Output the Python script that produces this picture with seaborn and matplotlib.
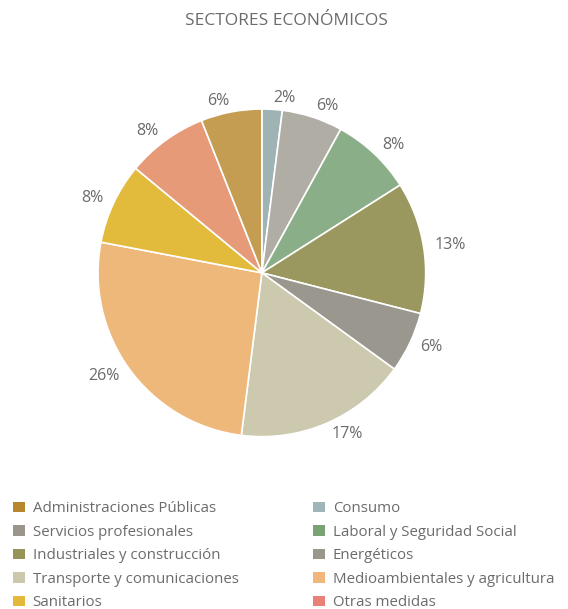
import matplotlib
matplotlib.use("Agg")
from matplotlib import pyplot as plt
from matplotlib.patches import Patch
import seaborn as sns

# data, in clockwise order starting at 12 o'clock
sectores = ["Consumo", "Servicios profesionales", "Laboral y Seguridad Social",
            "Industriales y construcción", "Energéticos", "Transporte y comunicaciones",
            "Medioambientales y agricultura", "Sanitarios", "Otras medidas",
            "Administraciones Públicas"]
porcentajes = [2, 6, 8, 13, 6, 17, 26, 8, 8, 6]
colores_pie = ["#9FB3B5", "#B0ADA5", "#8AAE88", "#9A985E", "#9A978E",
               "#CCC9AF", "#EFB87B", "#E2BA3C", "#E79A77", "#C49D52"]
colores_leyenda = ["#A0B5B8", "#9A958D", "#7AA374", "#969557", "#9A968C",
                   "#CCC8AC", "#EFB77B", "#E3B83B", "#E98178", "#B8862E"]
# legend order, read row by row (two columns)
orden_leyenda = ["Administraciones Públicas", "Consumo",
                 "Servicios profesionales", "Laboral y Seguridad Social",
                 "Industriales y construcción", "Energéticos",
                 "Transporte y comunicaciones", "Medioambientales y agricultura",
                 "Sanitarios", "Otras medidas"]

sns.set_theme(style="white")
plt.rcParams['font.family'] = ['Open Sans', 'DejaVu Sans']
gris = "#6b6b6b"

fig = plt.figure(figsize=(5.68, 6.09), dpi=100)
ax = fig.add_axes([0.461 - 0.2885, 0.552 - 0.269, 0.577, 0.538])

etiquetas = [f"{p}%" for p in porcentajes]
wedges, textos = ax.pie(porcentajes, colors=colores_pie, startangle=90, counterclock=False,
                        labels=etiquetas, labeldistance=1.07,
                        wedgeprops=dict(edgecolor="white", linewidth=1.2),
                        textprops=dict(color=gris, fontsize=11.5))
ax.set_xlim(-1, 1)
ax.set_ylim(-1, 1)
ax.set_aspect("equal")

fig.text(0.505, 0.965, "SECTORES ECONÓMICOS", ha="center", va="center",
         color=gris, fontsize=12.5)

# legend with row-major order -> reorder to column-major for matplotlib
filas = [orden_leyenda[i:i + 2] for i in range(0, len(orden_leyenda), 2)]
col_major = [f[0] for f in filas] + [f[1] for f in filas]
handles = [Patch(facecolor=colores_leyenda[sectores.index(s)], edgecolor="none") for s in col_major]
leg = fig.legend(handles, col_major, ncol=2, loc="upper left", bbox_to_anchor=(0.023, 0.177),
                 frameon=False, fontsize=10.8, handlelength=0.8, handleheight=0.7,
                 handletextpad=0.5, columnspacing=5.0, labelspacing=0.57,
                 borderaxespad=0, borderpad=0)
for t in leg.get_texts():
    t.set_color(gris)

fig.savefig("out.png", dpi=100)
